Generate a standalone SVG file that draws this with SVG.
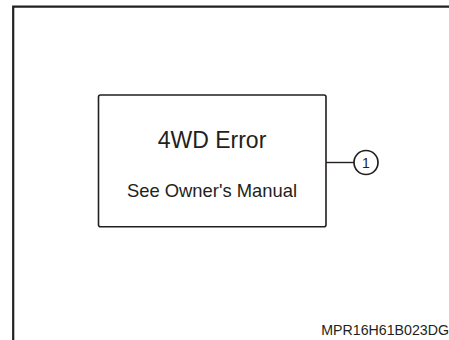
<svg xmlns="http://www.w3.org/2000/svg" width="449" height="340" viewBox="0 0 449 340">
  <style>
    .frame { fill: none; stroke: #231f20; stroke-width: 2.2; }
    .box { fill: #ffffff; stroke: #231f20; stroke-width: 1.6; }
    .conn { fill: none; stroke: #231f20; stroke-width: 1.4; }
    .bubble { fill: #ffffff; stroke: #231f20; stroke-width: 1.7; }
    text { font-family: "Liberation Sans", Arial, sans-serif; fill: #231f20; }
    .title { font-size: 23px; text-anchor: middle; }
    .sub { font-size: 18.4px; text-anchor: middle; }
    .num { font-size: 14px; text-anchor: middle; }
    .code { font-size: 14.2px; text-anchor: end; }
  </style>
  <rect width="449" height="340" fill="#ffffff"/>
  <path class="frame" d="M13.2,340 V6.6 H449"/>
  <g id="connectors">
    <line class="conn" x1="326" y1="162.5" x2="354" y2="162.5"/>
  </g>
  <g id="display">
    <rect class="box" x="98.5" y="95" width="227.5" height="131.7" rx="2"/>
    <text class="title" x="212" y="147.5">4WD Error</text>
    <text class="sub" x="212" y="196.7">See Owner's Manual</text>
  </g>
  <g id="callout-1">
    <circle class="bubble" cx="366" cy="162.5" r="12"/>
    <text class="num" x="366" y="167.5">1</text>
  </g>
  <text class="code" x="449" y="335">MPR16H61B023DG</text>
</svg>
